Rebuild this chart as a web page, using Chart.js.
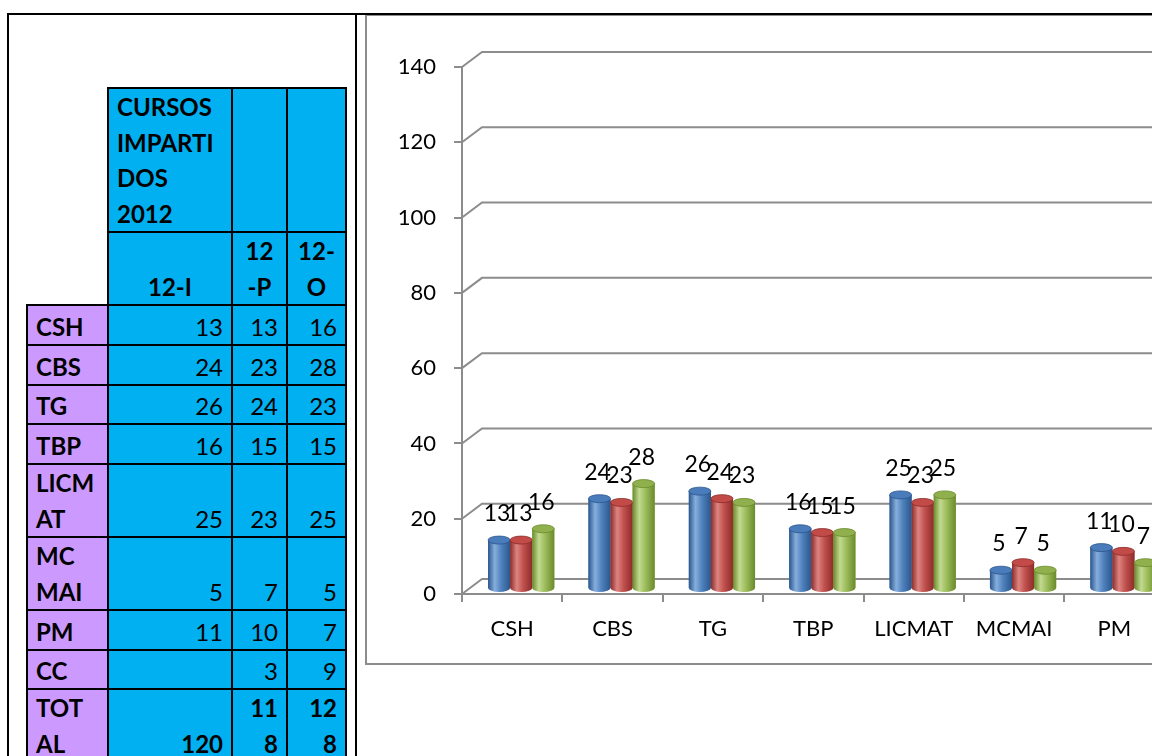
<!DOCTYPE html>
<html lang="es">
<head>
<meta charset="UTF-8">
<script src="https://cdn.jsdelivr.net/npm/chart.js"></script>
<style>
  body { margin: 0; width: 1152px; height: 756px; overflow: hidden; background: #fff; position: relative; font-family: Lato, "Open Sans", sans-serif; }
  .bar-line { position: absolute; background: #000; }
  .cell { position: absolute; box-sizing: border-box; border: 2px solid #000; color: #000; }
  .cell .txt { position: absolute; left: 0; right: 0; bottom: 0; padding: 0 8px; font-size: 24px; line-height: 35.5px; white-space: pre; }
  .blue { background: #00B0F0; }
  .purple { background: #CC99FF; }
  .b { font-weight: bold; }
  #frame { position: absolute; left: 365px; top: 14px; width: 1000px; height: 651px; box-sizing: border-box; border: 2px solid #8c8c8c; }
  #chart { position: absolute; left: 367px; top: 16px; }
</style>
</head>
<body>
  <div id="table"></div>
  <div id="frame"></div>
  <canvas id="chart" width="996" height="647"></canvas>
  <div class="bar-line" style="left:7px;top:13px;width:1145px;height:2px"></div>
  <div class="bar-line" style="left:7px;top:13px;width:2px;height:743px"></div>
  <div class="bar-line" style="left:355px;top:13px;width:2px;height:743px"></div>

<script>
// data
const categories = ['CSH', 'CBS', 'TG', 'TBP', 'LICMAT', 'MCMAI', 'PM', 'CC'];
const seriesNames = ['12-I', '12-P', '12-O'];
const s12I = [13, 24, 26, 16, 25, 5, 11, null];
const s12P = [13, 23, 24, 15, 23, 7, 10, 3];
const s12O = [16, 28, 23, 15, 25, 5, 7, 9];
const tableTitle = 'CURSOS IMPARTIDOS 2012';
const yMax = 140;
const yStep = 20;

// Excel-style wrapped text in the narrow cells
const wrapped = {
    'CURSOS IMPARTIDOS 2012': 'CURSOS\nIMPARTI\nDOS\n2012',
    '12-P': '12\n-P', '12-O': '12-\nO',
    'LICMAT': 'LICM\nAT', 'MCMAI': 'MC\nMAI', 'TOTAL': 'TOT\nAL',
    '118': '11\n8', '128': '12\n8'
};
const show = t => wrapped[t] !== undefined ? wrapped[t] : t;

// ---- spreadsheet table ----
const colX = [27, 108, 232, 287, 346];
const rowH = [40, 40, 39, 40, 73, 73, 40, 39, 73];
const tbl = document.getElementById('table');

function cell(x0, x1, y0, y1, text, cls, align) {
    const d = document.createElement('div');
    d.className = 'cell ' + cls;
    d.style.left = (x0 - 1) + 'px';
    d.style.top = (y0 - 1) + 'px';
    d.style.width = (x1 - x0 + 2) + 'px';
    d.style.height = (y1 - y0 + 2) + 'px';
    const t = document.createElement('div');
    t.className = 'txt';
    t.style.textAlign = align;
    t.textContent = text;
    d.appendChild(t);
    tbl.appendChild(d);
}

cell(colX[1], colX[2], 88, 232, show(tableTitle), 'blue b', 'left');
cell(colX[2], colX[3], 88, 232, '', 'blue', 'left');
cell(colX[3], colX[4], 88, 232, '', 'blue', 'left');
seriesNames.forEach((s, i) => cell(colX[i + 1], colX[i + 2], 232, 305, show(s), 'blue b', 'center'));

const series = [s12I, s12P, s12O];
const totals = series.map(s => s.reduce((a, v) => a + (v || 0), 0));
let y = 305;
categories.concat(['TOTAL']).forEach((c, r) => {
    const y1 = y + rowH[r];
    const isTotal = r === categories.length;
    cell(colX[0], colX[1], y, y1, show(c), 'purple b', 'left');
    series.forEach((s, i) => {
        const v = isTotal ? totals[i] : s[r];
        cell(colX[i + 1], colX[i + 2], y, y1, v == null ? '' : show(String(v)), 'blue' + (isTotal ? ' b' : ''), 'right');
    });
    y = y1;
});

// ---- 3D cylinder chart ----
const depth = { dx: 20, dy: -15 };   // back wall offset
const mid = { dx: 9, dy: -5 };       // bars stand mid-depth
const shades = [
    { base: '#4F81BD', dark: '#2B568C', light: '#86AEDD', cap: '#4A7BBA' },
    { base: '#C0504D', dark: '#8C2C29', light: '#DD8481', cap: '#C24B47' },
    { base: '#9BBB59', dark: '#6A8A2C', light: '#C2DA90', cap: '#8FB04C' }
];

const cylinders = {
    id: 'cylinders',
    beforeDatasetsDraw(chart) {
        const { ctx, chartArea } = chart;
        const ys = chart.scales.y;
        ctx.save();
        ctx.strokeStyle = '#8c8c8c';
        ctx.lineWidth = 2;
        for (let v = 0; v <= yMax; v += yStep) {
            const py = ys.getPixelForValue(v);
            ctx.beginPath();
            ctx.moveTo(chartArea.left, py);
            ctx.lineTo(chartArea.left + depth.dx, py + depth.dy);
            ctx.lineTo(chartArea.right + depth.dx, py + depth.dy);
            ctx.stroke();
        }
        ctx.restore();
        ctx.save();
        ctx.translate(mid.dx, mid.dy);
    },
    afterDatasetsDraw(chart) {
        const { ctx } = chart;
        const ry = 4;
        chart.data.datasets.forEach((ds, di) => {
            const meta = chart.getDatasetMeta(di);
            const sh = shades[di];
            meta.data.forEach((el, i) => {
                if (ds.data[i] == null) return;
                const { x, y: top, base, width } = el.getProps(['x', 'y', 'base', 'width'], true);
                const rx = width / 2;
                const g = ctx.createLinearGradient(x - rx, 0, x + rx, 0);
                g.addColorStop(0, sh.dark);
                g.addColorStop(0.3, sh.light);
                g.addColorStop(0.6, sh.base);
                g.addColorStop(1, sh.dark);
                ctx.beginPath();
                ctx.moveTo(x - rx, top);
                ctx.lineTo(x - rx, base);
                ctx.ellipse(x, base, rx, ry, 0, Math.PI, 0, true);
                ctx.lineTo(x + rx, top);
                ctx.closePath();
                ctx.fillStyle = g;
                ctx.fill();
                ctx.beginPath();
                ctx.ellipse(x, top, rx, ry, 0, 0, Math.PI * 2);
                ctx.fillStyle = sh.cap;
                ctx.fill();
                ctx.strokeStyle = sh.dark;
                ctx.lineWidth = 0.8;
                ctx.stroke();
            });
        });
        // value labels
        ctx.fillStyle = '#000';
        ctx.font = '23px Lato';
        ctx.textAlign = 'center';
        ctx.textBaseline = 'alphabetic';
        chart.data.datasets.forEach((ds, di) => {
            chart.getDatasetMeta(di).data.forEach((el, i) => {
                if (ds.data[i] == null) return;
                ctx.fillText(ds.data[i], el.x - 2, el.y - 19);
            });
        });
        ctx.restore();
    }
};

Chart.defaults.font.family = 'Lato';

new Chart(document.getElementById('chart'), {
    type: 'bar',
    data: {
        labels: categories,
        datasets: [
            { label: seriesNames[0], data: s12I, backgroundColor: shades[0].base },
            { label: seriesNames[1], data: s12P, backgroundColor: shades[1].base },
            { label: seriesNames[2], data: s12O, backgroundColor: shades[2].base }
        ]
    },
    options: {
        responsive: false,
        animation: false,
        categoryPercentage: 0.66,
        barPercentage: 1.0,
        layout: { padding: { top: 51, right: 98, bottom: 0, left: 0 } },
        plugins: {
            legend: { display: false },
            tooltip: { enabled: false }
        },
        scales: {
            y: {
                min: 0,
                max: yMax,
                ticks: { stepSize: yStep, color: '#000', font: { size: 22 }, padding: 18 },
                grid: { drawOnChartArea: false, tickLength: 8, color: '#8c8c8c', lineWidth: 2 },
                border: { color: '#8c8c8c', width: 2 },
                afterFit(s) { s.width = 95; }
            },
            x: {
                ticks: { color: '#000', font: { size: 22 }, padding: 14 },
                grid: { offset: true, drawOnChartArea: false, tickLength: 8, color: '#8c8c8c', lineWidth: 2 },
                border: { color: '#8c8c8c', width: 2 },
                afterFit(s) { s.height = 69; }
            }
        }
    },
    plugins: [cylinders]
});
</script>
</body>
</html>
